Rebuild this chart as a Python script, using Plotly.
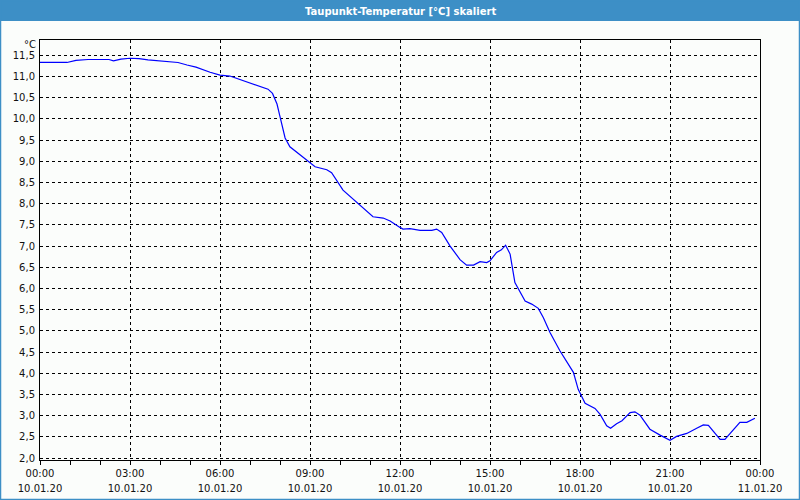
import plotly.graph_objects as go

# --- data (hours since 10.01.20 00:00, dew point in °C) ---
hours = [0, 0.9, 1.2, 1.6, 2.0, 2.3, 2.45, 2.7, 3.0, 3.3, 3.6, 4.1, 4.6, 4.9, 5.2, 5.67,
         6.0, 6.33, 6.9, 7.33, 7.6, 7.75, 7.9, 8.0, 8.17, 8.33, 8.67, 9.0, 9.17, 9.56,
         9.72, 10.1, 10.33, 10.56, 11.1, 11.44, 11.67, 12.0, 12.1, 12.33, 12.67, 13.06,
         13.22, 13.39, 13.67, 14.0, 14.22, 14.45, 14.67, 14.89, 15.0, 15.22, 15.38, 15.52,
         15.67, 15.83, 16.17, 16.39, 16.61, 16.78, 17.0, 17.33, 17.61, 17.78, 17.94, 18.17,
         18.5, 18.67, 18.89, 19.02, 19.22, 19.4, 19.67, 19.83, 20.0, 20.33, 20.67, 21.0,
         21.22, 21.56, 21.89, 22.11, 22.28, 22.44, 22.67, 22.83, 23.0, 23.22, 23.33, 23.56,
         23.83]
dewpoint = [11.33, 11.33, 11.38, 11.40, 11.40, 11.40, 11.37, 11.41, 11.43, 11.42, 11.39,
            11.36, 11.33, 11.27, 11.22, 11.10, 11.03, 11.01, 10.87, 10.78, 10.70, 10.60,
            10.35, 10.05, 9.55, 9.34, 9.15, 8.97, 8.87, 8.80, 8.73, 8.32, 8.18, 8.03, 7.69,
            7.66, 7.59, 7.44, 7.40, 7.41, 7.37, 7.37, 7.40, 7.32, 7.00, 6.68, 6.55, 6.55,
            6.63, 6.61, 6.65, 6.85, 6.91, 7.02, 6.81, 6.14, 5.70, 5.63, 5.53, 5.31, 4.96,
            4.53, 4.21, 4.02, 3.62, 3.29, 3.17, 3.03, 2.76, 2.70, 2.81, 2.88, 3.07, 3.09,
            3.01, 2.68, 2.54, 2.42, 2.51, 2.58, 2.70, 2.78, 2.77, 2.64, 2.44, 2.44, 2.58,
            2.76, 2.84, 2.84, 2.94]

x_tick_hours = [0, 3, 6, 9, 12, 15, 18, 21, 24]
x_tick_times = ["00:00", "03:00", "06:00", "09:00", "12:00", "15:00", "18:00", "21:00", "00:00"]
x_tick_dates = ["10.01.20"] * 8 + ["11.01.20"]
y_ticks = [2.0, 2.5, 3.0, 3.5, 4.0, 4.5, 5.0, 5.5, 6.0, 6.5, 7.0, 7.5, 8.0, 8.5, 9.0,
           9.5, 10.0, 10.5, 11.0, 11.5]

title_text = "Taupunkt-Temperatur [°C] skaliert"
unit_text = "°C"

BLUE = "#3d8fc6"
BG = "#fbfdfb"
FONT = "DejaVu Sans"
TXT = "#111111"

fig = go.Figure()
fig.add_trace(go.Scatter(x=hours, y=dewpoint, mode="lines",
                         line=dict(color="#0000ff", width=1.2), hoverinfo="skip"))
# invisible helper trace so the date axis is drawn
fig.add_trace(go.Scatter(x=[x_tick_hours[0], x_tick_hours[-1]], y=[dewpoint[0], dewpoint[0]],
                         xaxis="x2", mode="lines", line=dict(width=0),
                         opacity=0, hoverinfo="skip"))

W, H = 800, 500
L, R, T, B = 40, 40, 40, 40
pw, ph = W - L - R, H - T - B

def px_x(px):
    return (px - L) / pw

def px_y(py):
    return (H - B - py) / ph

fig.update_layout(
    width=W, height=H, autosize=False,
    margin=dict(l=L, r=R, t=T, b=B, autoexpand=False),
    paper_bgcolor=BG, plot_bgcolor=BG,
    showlegend=False,
    separators=",.",
    font=dict(family=FONT, size=10, color=TXT),
    xaxis=dict(
        range=[0, 24], tickmode="array", tickvals=x_tick_hours,
        ticktext=x_tick_times, automargin=False,
        ticks="outside", ticklen=4, tickcolor="black", tickwidth=1,
        ticklabelstandoff=0,
        showline=True, mirror=True, linecolor="black", linewidth=1,
        showgrid=True, gridcolor="black", gridwidth=1, griddash="3px,3px",
        zeroline=False,
        minor=dict(tickmode="linear", tick0=0, dtick=1, ticks="outside", ticklen=4,
                   tickcolor="black", showgrid=False),
        tickfont=dict(family=FONT, size=10, color=TXT),
    ),
    xaxis2=dict(
        range=[0, 24], overlaying="x", side="bottom", anchor="y",
        tickmode="array", tickvals=x_tick_hours, ticktext=x_tick_dates,
        automargin=False,
        ticks="", ticklabelstandoff=21, showline=False, showgrid=False,
        zeroline=False,
        tickfont=dict(family=FONT, size=10, color=TXT),
    ),
    yaxis=dict(
        range=[1.953, 11.86], tickmode="array", tickvals=y_ticks,
        tickformat=".1f", ticks="", ticklabelstandoff=2, automargin=False,
        showline=True, mirror=True, linecolor="black", linewidth=1,
        showgrid=True, gridcolor="black", gridwidth=1, griddash="3px,3px",
        zeroline=False,
        tickfont=dict(family=FONT, size=10, color=TXT),
    ),
    shapes=[
        dict(type="rect", xref="paper", yref="paper",
             x0=px_x(0), x1=px_x(800), y0=px_y(21), y1=px_y(0),
             fillcolor=BLUE, line=dict(width=0), layer="below"),
        dict(type="rect", xref="paper", yref="paper",
             x0=px_x(0.5), x1=px_x(799.5), y0=px_y(499.5), y1=px_y(0.5),
             fillcolor="rgba(0,0,0,0)", line=dict(color=BLUE, width=1.5)),
    ],
    annotations=[
        dict(text=f"<b>{title_text}</b>", xref="paper", yref="paper",
             x=px_x(400), y=px_y(11), xanchor="center", yanchor="middle",
             showarrow=False, font=dict(family=FONT, size=10, color="white")),
        dict(text=unit_text, xref="paper", yref="paper",
             x=px_x(38), y=px_y(45), xanchor="right", yanchor="middle",
             showarrow=False, font=dict(family=FONT, size=10, color=TXT)),
    ],
)

fig.write_html("out.html")
